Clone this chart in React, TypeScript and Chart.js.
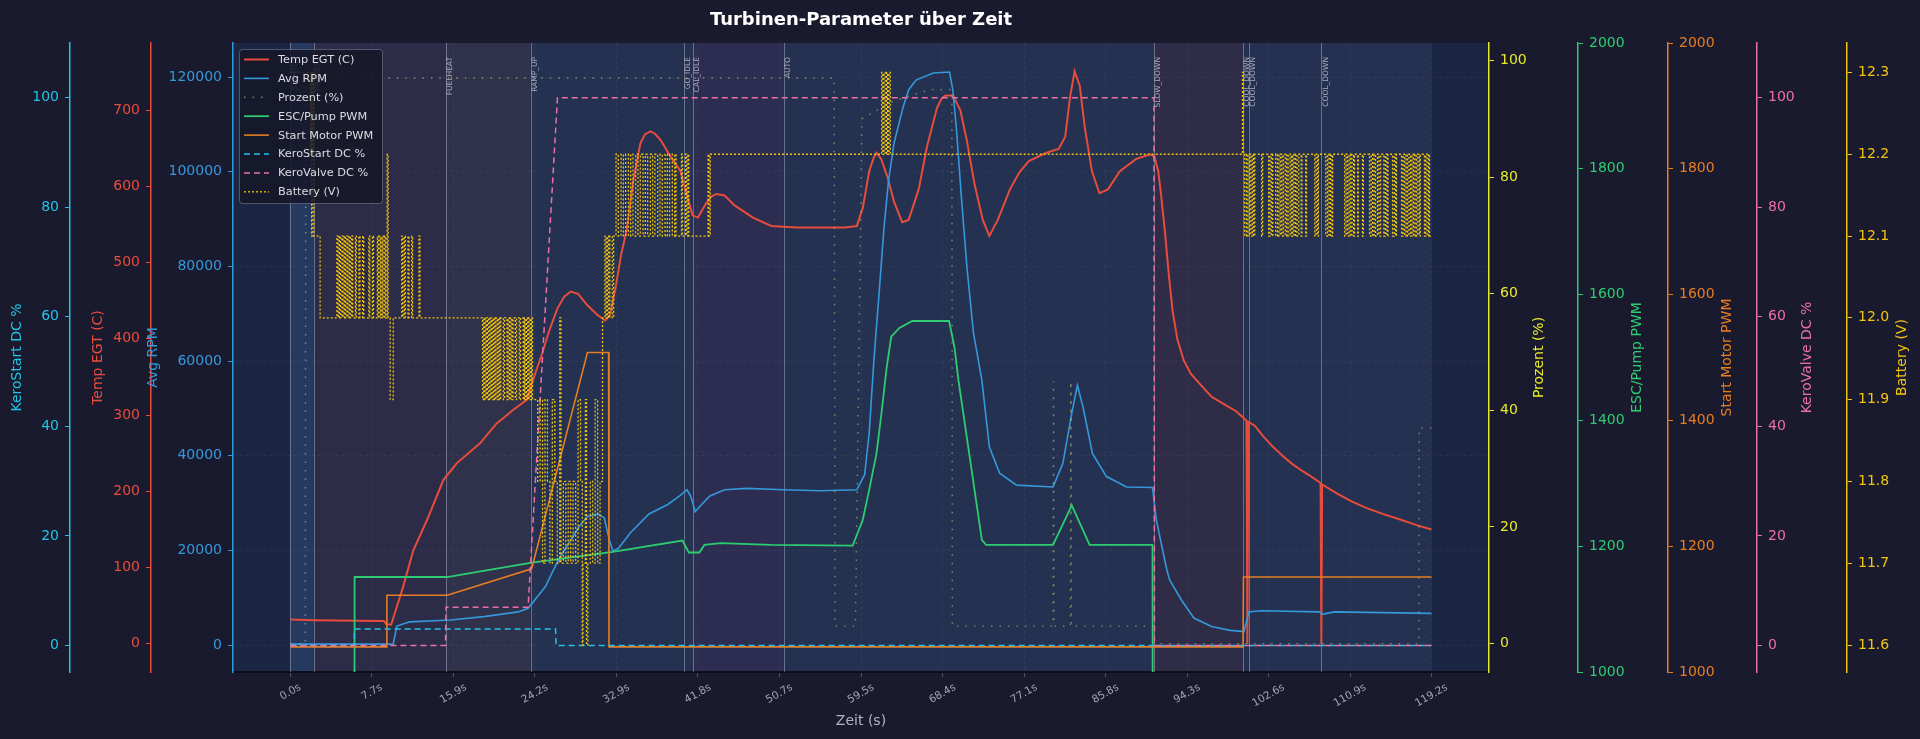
import { useEffect, useRef } from "react";
import { Chart, registerables } from "chart.js";

Chart.register(...registerables);

const FONT = "'DejaVu Sans', 'Liberation Sans', sans-serif";

// samples are evenly spaced along x, every tick carries the elapsed time of its sample
const TICK_SECONDS = [0, 7.7, 15.9, 24.2, 32.9, 41.8, 50.7, 59.5, 68.4, 77.1, 85.8, 94.3, 102.6, 110.9, 119.2];

// ECU phase changes (s)
const PHASE_START = [0, 2.2, 15.15, 23.77, 40.23, 41.28, 51.2, 90.86, 100.03, 100.58, 107.98];
const PHASE_NAMES = ["STARTUP", "PREHEAT", "FUELHEAT", "RAMP_UP", "GO_IDLE", "CAL_IDLE", "AUTO", "SLOW_DOWN", "COOL_DOWN", "COOL_DOWN", "COOL_DOWN"];
const LOG_END = 119.2;

// [time s, value]
const TEMP_EGT = [
  [0, 32], [2.2, 31], [8.9, 30], [9.13, 26], [9.63, 25], [10.84, 75], [11.87, 123], [13.23, 162], [14.89, 215],
  [16.25, 237], [18.6, 263], [20.3, 289], [22.0, 307], [23.35, 320], [24.0, 346], [25.0, 382], [25.7, 410],
  [26.6, 440], [27.3, 455], [28.0, 462], [28.8, 459], [29.8, 444], [30.9, 431], [31.7, 424], [32.2, 431],
  [32.85, 470], [33.4, 510], [34.0, 542], [34.75, 608], [35.5, 656], [36.0, 668], [36.6, 672], [37.1, 669],
  [37.7, 661], [38.8, 639], [39.85, 621], [40.6, 588], [41.2, 562], [41.8, 559], [42.7, 578], [43.3, 587],
  [43.8, 590], [44.7, 588], [45.8, 575], [47.8, 559], [49.8, 548], [52.5, 546], [55.1, 546], [57.75, 546],
  [59.05, 548], [59.7, 572], [60.4, 620], [60.9, 638], [61.2, 644], [61.7, 636], [62.4, 612], [63.1, 580],
  [64.0, 553], [64.7, 556], [65.8, 596], [66.7, 652], [67.8, 703], [68.3, 715], [68.7, 719], [69.5, 719],
  [70.3, 700], [71.0, 660], [71.8, 604], [72.7, 556], [73.4, 535], [74.3, 556], [75.6, 596], [76.6, 618],
  [77.6, 633], [79.5, 644], [80.8, 649], [81.5, 665], [82.0, 716], [82.5, 751], [83.05, 732], [83.6, 676],
  [84.35, 620], [85.15, 591], [86.05, 596], [87.3, 620], [89.0, 636], [90.5, 642], [90.9, 639], [91.3, 620],
  [91.6, 588], [92.0, 540], [92.4, 484], [92.8, 436], [93.3, 399], [93.95, 372], [94.7, 354], [95.6, 341],
  [96.8, 324], [98.1, 314], [99.3, 305], [100.35, 293], [100.45, 0], [100.55, 291], [101.2, 286], [102.0, 273],
  [103.0, 259], [104.0, 247], [104.9, 237], [106.0, 227], [107.0, 219], [107.9, 211], [107.98, 0], [108.06, 209],
  [109.6, 197], [111.0, 187], [112.6, 178], [114.3, 170], [116.0, 163], [117.6, 156], [119.2, 150],
];

const AVG_RPM = [
  [0, 200], [9.84, 200], [10.2, 4000], [11.5, 4900], [15.6, 5300], [19.0, 6000], [22.5, 7000], [23.5, 7750],
  [25.3, 12300], [26.7, 18000], [28.9, 25000], [29.8, 27150], [30.9, 27700], [31.6, 26900], [32.1, 22500],
  [32.5, 19900], [33.1, 20400], [34.45, 23800], [36.45, 27700], [38.5, 29700], [39.8, 31500], [40.6, 32800],
  [41.0, 31500], [41.5, 28200], [42.1, 29500], [43.1, 31500], [44.7, 32800], [47.1, 33100], [51.1, 32800],
  [55.1, 32600], [59.05, 32800], [59.9, 36000], [60.4, 45000], [60.9, 60000], [61.5, 75000], [62.0, 88000],
  [62.5, 98000], [63.1, 106000], [64.1, 113700], [64.7, 117300], [65.5, 119400], [67.4, 120900],
  [69.15, 121100], [69.5, 117300], [69.9, 108800], [70.4, 95000], [71.0, 80000], [71.7, 66000], [72.6, 56000],
  [73.4, 41900], [74.5, 36300], [76.3, 33800], [80.2, 33400], [81.25, 38400], [82.2, 49000], [82.8, 54900],
  [83.4, 50300], [84.4, 40500], [85.9, 35600], [88.0, 33400], [90.7, 33300], [91.1, 26400], [92.2, 15800],
  [92.5, 13700], [93.7, 9570], [95.0, 5700], [96.8, 3900], [98.7, 3100], [100.1, 2850], [100.6, 7000],
  [101.8, 7240], [107.8, 7000], [108.05, 6500], [109.3, 7000], [119.2, 6700],
];

const PROZENT = [
  [0, 0], [1.4, 0], [1.45, 97], [56.6, 97], [56.7, 3], [58.9, 3], [59.6, 90], [63.0, 93], [67.0, 95], [69.4, 95],
  [69.45, 3], [80.2, 3], [80.25, 45], [80.3, 3], [82.05, 3], [82.1, 45], [82.15, 3], [90.8, 3], [90.85, 0],
  [117.9, 0], [117.95, 37], [119.2, 37],
];

const ESC_PWM = [
  [0, 0], [6.0, 0], [6.06, 1151], [15.26, 1151], [19.4, 1162], [23.9, 1174], [32.5, 1191], [40.1, 1209],
  [40.8, 1190], [41.95, 1190], [42.5, 1202], [44.3, 1205], [49.8, 1202], [58.6, 1201], [59.7, 1242],
  [60.4, 1290], [61.2, 1348], [61.7, 1407], [62.3, 1484], [62.8, 1533], [63.7, 1547], [65.1, 1558],
  [69.1, 1558], [69.7, 1514], [70.1, 1464], [72.6, 1210], [73.05, 1202], [80.2, 1202], [82.2, 1265],
  [84.1, 1202], [90.7, 1202], [90.8, 0], [119.2, 0],
];

const START_MOTOR_PWM = [
  [0, 1040], [9.13, 1040], [9.2, 1122], [15.26, 1122], [23.86, 1164], [29.8, 1508], [32.06, 1508],
  [32.1, 1040], [100.0, 1040], [100.05, 1151], [119.2, 1151],
];

const KEROSTART_DC = [[0, 0], [6.0, 0], [6.06, 3], [26.4, 3], [26.45, 0], [119.2, 0]];

const KEROVALVE_DC = [[0, 0], [15.1, 0], [15.15, 7], [23.5, 7], [26.6, 100], [90.85, 100], [90.9, 0], [119.2, 0]];

// step samples: value holds from its time until the next sample
const BATTERY_V = [
  [0, 12.3], [1.9, 12.2], [1.95, 12.3], [2.0, 12.1], [2.05, 12.3], [2.1, 12.2], [2.15, 12.3], [2.2, 12.1], [2.8, 12.0],
  [4.39, 12.1], [4.5, 12.0], [4.62, 12.1], [4.72, 12.0], [4.86, 12.1], [4.96, 12.0], [5.09, 12.1], [5.19, 12.0],
  [5.32, 12.1], [5.42, 12.0], [5.55, 12.1], [5.65, 12.0], [5.78, 12.1], [5.88, 12.0], [6.13, 12.1], [6.23, 12.0],
  [6.47, 12.1], [6.57, 12.0], [6.82, 12.1], [6.92, 12.0], [7.4, 12.1], [7.5, 12.0], [7.75, 12.1], [7.85, 12.0],
  [8.24, 12.1], [8.34, 12.0], [8.49, 12.1], [8.59, 12.0], [8.73, 12.1], [8.83, 12.0], [8.98, 12.1], [9.08, 12.0],
  [9.23, 12.2], [9.33, 12.0], [9.53, 11.9], [9.84, 12.0], [10.7, 12.1], [10.8, 12.0], [10.95, 12.1], [11.05, 12.0],
  [11.32, 12.1], [11.42, 12.0], [11.69, 12.1], [11.79, 12.0], [12.43, 12.1], [12.53, 12.0],
  [18.86, 11.9], [18.98, 12.0], [19.1, 11.9], [19.22, 12.0], [19.35, 11.9], [19.47, 12.0], [19.6, 11.9],
  [19.72, 12.0], [19.85, 11.9], [19.97, 12.0], [20.1, 11.9], [20.22, 12.0], [20.36, 11.9], [20.48, 12.0],
  [20.6, 11.9], [20.72, 12.0], [20.98, 11.9], [21.1, 12.0], [21.35, 11.9], [21.47, 12.0], [21.6, 11.9],
  [21.72, 12.0], [21.85, 11.9], [21.97, 12.0], [22.2, 11.9], [22.32, 12.0], [22.6, 11.9], [22.72, 12.0],
  [23.0, 11.9], [23.12, 12.0], [23.2, 11.9], [23.32, 12.0], [23.45, 11.9], [23.57, 12.0], [23.7, 11.9],
  [23.82, 12.0], [23.95, 11.9],
  [24.49, 11.8], [24.75, 11.9], [25.01, 11.7], [25.27, 11.9], [25.53, 11.8], [25.79, 11.7], [26.05, 11.9],
  [26.32, 11.8], [26.58, 11.7], [26.84, 12.0], [26.97, 11.7], [27.23, 11.8], [27.49, 11.7], [27.75, 11.8],
  [28.01, 11.7], [28.27, 11.8], [28.54, 11.7], [28.8, 11.9], [29.06, 11.8], [29.25, 11.6], [29.32, 11.7],
  [29.58, 11.9], [29.7, 11.6], [29.84, 11.7], [30.1, 11.8], [30.36, 11.7], [30.63, 11.9], [30.89, 11.7],
  [31.15, 11.8], [31.41, 12.0], [31.67, 12.1], [31.8, 12.0], [31.93, 12.1], [32.06, 12.0], [32.19, 12.1],
  [32.45, 12.0], [32.6, 12.1],
  [32.85, 12.2], [33.1, 12.1], [33.4, 12.2], [33.65, 12.1], [33.9, 12.2], [34.2, 12.1], [34.45, 12.2],
  [34.7, 12.1], [35.0, 12.2], [35.25, 12.1], [35.5, 12.2], [35.8, 12.1], [36.05, 12.2], [36.3, 12.1],
  [36.6, 12.2], [36.85, 12.1], [37.1, 12.2], [37.4, 12.1], [37.65, 12.2], [37.9, 12.1], [38.2, 12.2],
  [38.45, 12.1], [38.7, 12.2], [39.0, 12.1], [39.25, 12.2], [39.4, 12.1], [40.0, 12.2], [40.1, 12.1],
  [40.45, 12.2], [40.55, 12.1], [40.7, 12.2], [40.8, 12.1], [42.9, 12.2], [43.0, 12.1], [43.15, 12.2],
  [61.75, 12.3], [61.88, 12.2], [62.0, 12.3], [62.15, 12.2], [62.3, 12.3], [62.4, 12.2], [62.55, 12.3],
  [62.7, 12.2], [99.95, 12.3], [100.05, 12.2],
  [100.17, 12.1], [100.35, 12.2], [100.5, 12.1], [100.65, 12.2], [100.8, 12.1], [100.95, 12.2], [101.08, 12.1],
  [101.2, 12.2], [101.9, 12.1], [102.0, 12.2], [102.61, 12.1], [102.75, 12.2], [102.9, 12.1], [103.02, 12.2],
  [103.32, 12.1], [103.5, 12.2], [103.65, 12.1], [103.8, 12.2], [103.95, 12.1], [104.1, 12.2], [104.3, 12.1],
  [104.45, 12.2], [104.6, 12.1], [104.8, 12.2], [104.94, 12.1], [105.05, 12.2], [105.19, 12.1], [105.35, 12.2],
  [105.5, 12.1], [105.69, 12.2], [105.93, 12.1], [106.0, 12.2], [106.39, 12.1], [106.47, 12.2], [107.31, 12.1],
  [107.45, 12.2], [107.6, 12.1], [107.68, 12.2], [108.43, 12.1], [108.6, 12.2], [108.75, 12.1], [108.9, 12.2],
  [109.05, 12.1], [109.13, 12.2], [110.35, 12.1], [110.5, 12.2], [110.65, 12.1], [110.8, 12.2], [110.95, 12.1],
  [111.1, 12.2], [111.27, 12.1], [111.35, 12.2], [111.67, 12.1], [111.75, 12.2], [112.17, 12.1], [112.25, 12.2],
  [112.89, 12.1], [113.05, 12.2], [113.2, 12.1], [113.35, 12.2], [113.5, 12.1], [113.7, 12.2], [113.85, 12.1],
  [114.01, 12.2], [114.35, 12.1], [114.5, 12.2], [114.65, 12.1], [114.76, 12.2], [115.23, 12.1], [115.4, 12.2],
  [115.55, 12.1], [115.63, 12.2], [116.15, 12.1], [116.3, 12.2], [116.45, 12.1], [116.6, 12.2], [116.75, 12.1],
  [116.9, 12.2], [117.06, 12.1], [117.2, 12.2], [117.35, 12.1], [117.5, 12.2], [117.65, 12.1], [117.8, 12.2],
  [117.97, 12.1], [118.05, 12.2], [118.48, 12.1], [118.6, 12.2], [118.75, 12.1], [118.9, 12.2], [118.99, 12.1],
  [119.2, 12.1],
];

const KEROSTART_TICKS = [0, 20, 40, 60, 80, 100];
const TEMP_TICKS = [0, 100, 200, 300, 400, 500, 600, 700];
const RPM_TICKS = [0, 20000, 40000, 60000, 80000, 100000, 120000];
const PROZENT_TICKS = [0, 20, 40, 60, 80, 100];
const PWM_TICKS = [1000, 1200, 1400, 1600, 1800, 2000];
const KEROVALVE_TICKS = [0, 20, 40, 60, 80, 100];
const BATTERY_TICKS = [11.6, 11.7, 11.8, 11.9, 12.0, 12.1, 12.2, 12.3];

const COLORS = {
  temp: "#e74c3c",
  rpm: "#3498db",
  prozent: "#e8e82c",
  esc: "#2ecc71",
  start: "#e67e22",
  keroStart: "#22c4e6",
  keroValve: "#ec6fa8",
  battery: "#f1c40f",
};

const PHASE_FILL = ["#263a5f", "#2c2c48", "#30324b", "#243150", "#273150", "#2d2d51", "#243150", "#2e2c46", "#253150", "#253150", "#253150"];

const AXIS_TITLES: Record<string, string> = {
  yKS: "KeroStart DC %",
  yTemp: "Temp EGT (C)",
  yRPM: "Avg RPM",
  yPct: "Prozent (%)",
  yESC: "ESC/Pump PWM",
  yStart: "Start Motor PWM",
  yKV: "KeroValve DC %",
  yBat: "Battery (V)",
};

// seconds -> sample position (piecewise between labelled ticks)
function pos(t: number) {
  const T = TICK_SECONDS;
  let i = 0;
  while (i < T.length - 2 && t > T[i + 1]) i++;
  return i + (t - T[i]) / (T[i + 1] - T[i]);
}

const toXY = (arr: number[][]) => arr.map(([t, v]) => ({ x: pos(t), y: v }));

function yAxis(position: string, color: string, min: number, max: number, ticks: number[], width: number, weight: number, fmt = (v: number) => String(v), grid = false) {
  return {
    type: "linear",
    position,
    min,
    max,
    weight,
    afterBuildTicks: (s: any) => {
      s.ticks = ticks.map((v) => ({ value: v }));
    },
    afterFit: (s: any) => {
      s.width = width;
    },
    ticks: { color, font: { family: FONT, size: 14 }, padding: 6, callback: (v: any) => fmt(Number(v)) },
    grid: {
      drawOnChartArea: grid,
      color: "rgba(255,255,255,0.08)",
      lineWidth: 0.8,
      tickColor: color,
      tickLength: 5,
      tickWidth: 1,
    },
    border: { display: true, color, width: 1.5, dash: [3, 3] },
  };
}

const decor = {
  id: "decor",
  beforeDraw(chart: any) {
    const { ctx, chartArea: a, width, height } = chart;
    const xs = chart.scales.x;
    ctx.save();
    ctx.fillStyle = "#1a1a2e";
    ctx.fillRect(0, 0, width, height);
    ctx.fillStyle = "#1b2544";
    ctx.fillRect(a.left, a.top, a.right - a.left, a.bottom - a.top);
    PHASE_START.forEach((t, i) => {
      const x0 = xs.getPixelForValue(pos(t));
      const x1 = xs.getPixelForValue(pos(i + 1 < PHASE_START.length ? PHASE_START[i + 1] : LOG_END));
      ctx.fillStyle = PHASE_FILL[i];
      ctx.fillRect(x0, a.top, x1 - x0, a.bottom - a.top);
    });
    ctx.restore();
  },
  beforeDatasetsDraw(chart: any) {
    const { ctx, chartArea: a } = chart;
    const xs = chart.scales.x;
    ctx.save();
    ctx.strokeStyle = "rgba(190,195,215,0.45)";
    ctx.lineWidth = 1;
    PHASE_START.forEach((t) => {
      const x = Math.round(xs.getPixelForValue(pos(t))) + 0.5;
      ctx.beginPath();
      ctx.moveTo(x, a.top);
      ctx.lineTo(x, a.bottom);
      ctx.stroke();
    });
    ctx.restore();
  },
  afterDatasetsDraw(chart: any) {
    const { ctx, chartArea: a } = chart;
    const xs = chart.scales.x;
    ctx.save();
    ctx.fillStyle = "rgba(215,215,228,0.72)";
    ctx.font = `7.5px ${FONT}`;
    ctx.textAlign = "right";
    ctx.textBaseline = "top";
    PHASE_START.forEach((t, i) => {
      const x = xs.getPixelForValue(pos(t));
      ctx.save();
      ctx.translate(x + 0.5, a.top + 14);
      ctx.rotate(-Math.PI / 2);
      ctx.fillText(PHASE_NAMES[i], 0, 0);
      ctx.restore();
    });
    ctx.restore();
  },
  afterDraw(chart: any) {
    const { ctx, chartArea: a } = chart;
    const xs = chart.scales.x;
    const cx = (a.left + a.right) / 2;
    ctx.save();

    // title
    ctx.fillStyle = "#ffffff";
    ctx.font = `bold 18px ${FONT}`;
    ctx.textAlign = "center";
    ctx.textBaseline = "middle";
    ctx.fillText("Turbinen-Parameter über Zeit", cx, 20);

    // x tick labels, rotated
    ctx.font = `10.5px ${FONT}`;
    ctx.fillStyle = "#a4a4b4";
    TICK_SECONDS.forEach((s, i) => {
      const label = `${s.toFixed(1)}s`;
      const w = ctx.measureText(label).width;
      const h = w * 0.5 + 10.5 * 0.866;
      ctx.save();
      ctx.translate(xs.getPixelForValue(i), a.bottom + 10 + h / 2);
      ctx.rotate(-Math.PI / 6);
      ctx.fillText(label, 0, 0);
      ctx.restore();
    });
    ctx.font = `14px ${FONT}`;
    ctx.fillStyle = "#b4b4c0";
    ctx.fillText("Zeit (s)", cx, 721);

    // y axis titles
    const my = (a.top + a.bottom) / 2;
    Object.keys(AXIS_TITLES).forEach((id) => {
      const s = chart.scales[id];
      ctx.font = `14px ${FONT}`;
      const maxW = Math.max(...s.ticks.map((t: any) => ctx.measureText(String(t.label)).width));
      const x = s.position === "left" ? s.right - 11 - maxW - 15 : s.left + 11 + maxW + 13;
      ctx.save();
      ctx.translate(x, my);
      ctx.rotate(-Math.PI / 2);
      ctx.fillStyle = s.options.ticks.color;
      ctx.textAlign = "center";
      ctx.textBaseline = "middle";
      ctx.fillText(AXIS_TITLES[id], 0, 0);
      ctx.restore();
    });

    // legend
    const bx = a.left + 6;
    const by = a.top + 6;
    ctx.beginPath();
    ctx.roundRect(bx + 0.5, by + 0.5, 143, 154, 3);
    ctx.fillStyle = "rgba(22,22,40,0.86)";
    ctx.fill();
    ctx.strokeStyle = "rgba(150,150,175,0.45)";
    ctx.lineWidth = 1;
    ctx.stroke();
    ctx.font = `11.3px ${FONT}`;
    ctx.textAlign = "left";
    ctx.textBaseline = "middle";
    chart.data.datasets.forEach((d: any, i: number) => {
      const y = by + 10.5 + i * 18.9;
      ctx.save();
      ctx.strokeStyle = d.borderColor;
      ctx.lineWidth = d.borderWidth;
      ctx.setLineDash(d.borderDash || []);
      ctx.beginPath();
      ctx.moveTo(bx + 5, y);
      ctx.lineTo(bx + 30, y);
      ctx.stroke();
      ctx.restore();
      ctx.fillStyle = "#dcdce2";
      ctx.fillText(d.label, bx + 39, y + 0.5);
    });
    ctx.restore();
  },
};

export default function App() {
  const canvasRef = useRef<HTMLCanvasElement>(null);
  const chartRef = useRef<Chart | null>(null);

  useEffect(() => {
    if (!canvasRef.current) return;
    if (chartRef.current) chartRef.current.destroy();
    const ctx = canvasRef.current.getContext("2d");
    if (!ctx) return;

    const line = (label: string, data: number[][], yAxisID: string, color: string, width: number, order: number, extra: any = {}) => ({
      label,
      data: toXY(data),
      yAxisID,
      borderColor: color,
      backgroundColor: color,
      borderWidth: width,
      pointRadius: 0,
      pointHoverRadius: 0,
      tension: 0,
      fill: false,
      order,
      ...extra,
    });

    const datasets: any[] = [
      line("Temp EGT (C)", TEMP_EGT, "yTemp", COLORS.temp, 2, 8),
      line("Avg RPM", AVG_RPM, "yRPM", COLORS.rpm, 1.6, 7),
      line("Prozent (%)", PROZENT, "yPct", "rgba(196,204,120,0.6)", 1.4, 6, { borderDash: [1.5, 7] }),
      line("ESC/Pump PWM", ESC_PWM, "yESC", COLORS.esc, 1.8, 5),
      line("Start Motor PWM", START_MOTOR_PWM, "yStart", COLORS.start, 1.6, 4),
      line("KeroStart DC %", KEROSTART_DC, "yKS", COLORS.keroStart, 1.5, 3, { borderDash: [6, 4] }),
      line("KeroValve DC %", KEROVALVE_DC, "yKV", COLORS.keroValve, 1.5, 2, { borderDash: [6, 4] }),
      line("Battery (V)", BATTERY_V, "yBat", COLORS.battery, 1.3, 1, { borderDash: [2, 2], stepped: "before" }),
    ];

    chartRef.current = new Chart(ctx, {
      type: "line",
      data: { datasets },
      options: {
        responsive: true,
        maintainAspectRatio: false,
        animation: false,
        events: [],
        layout: { padding: { top: 43, left: 0, right: 0, bottom: 0 } },
        plugins: {
          legend: { display: false },
          tooltip: { enabled: false },
          title: { display: false },
        },
        scales: {
          x: {
            type: "linear",
            position: "bottom",
            min: -0.705,
            max: 14.705,
            afterBuildTicks: (s: any) => {
              s.ticks = TICK_SECONDS.map((_, i) => ({ value: i }));
            },
            afterFit: (s: any) => {
              s.height = 67;
            },
            ticks: { display: false },
            grid: { color: "rgba(255,255,255,0.07)", lineWidth: 0.8, tickColor: "#5c5c70", tickLength: 5 },
            border: { display: true, color: "#0d0d18", width: 2, dash: [3, 3] },
          },
          yKS: yAxis("left", COLORS.keroStart, -4.84, 110, KEROSTART_TICKS, 70, 3),
          yTemp: yAxis("left", COLORS.temp, -37, 788, TEMP_TICKS, 81, 2),
          yRPM: yAxis("left", COLORS.rpm, -5700, 127230, RPM_TICKS, 82, 1, (v) => String(v), true),
          yPct: yAxis("right", COLORS.prozent, -4.87, 103, PROZENT_TICKS, 89, 1),
          yESC: yAxis("right", COLORS.esc, 1000, 2000, PWM_TICKS, 90, 2),
          yStart: yAxis("right", COLORS.start, 1000, 2000, PWM_TICKS, 89, 3),
          yKV: yAxis("right", COLORS.keroValve, -4.84, 110, KEROVALVE_TICKS, 90, 4),
          yBat: yAxis("right", COLORS.battery, 11.567, 12.336, BATTERY_TICKS, 73, 5, (v) => v.toFixed(1)),
        } as any,
      },
      plugins: [decor],
    });

    return () => {
      if (chartRef.current) {
        chartRef.current.destroy();
        chartRef.current = null;
      }
    };
  }, []);

  return (
    <div style={{ position: "fixed", left: 0, top: 0, width: 1920, height: 739, background: "#1a1a2e" }}>
      <canvas ref={canvasRef}></canvas>
    </div>
  );
}
